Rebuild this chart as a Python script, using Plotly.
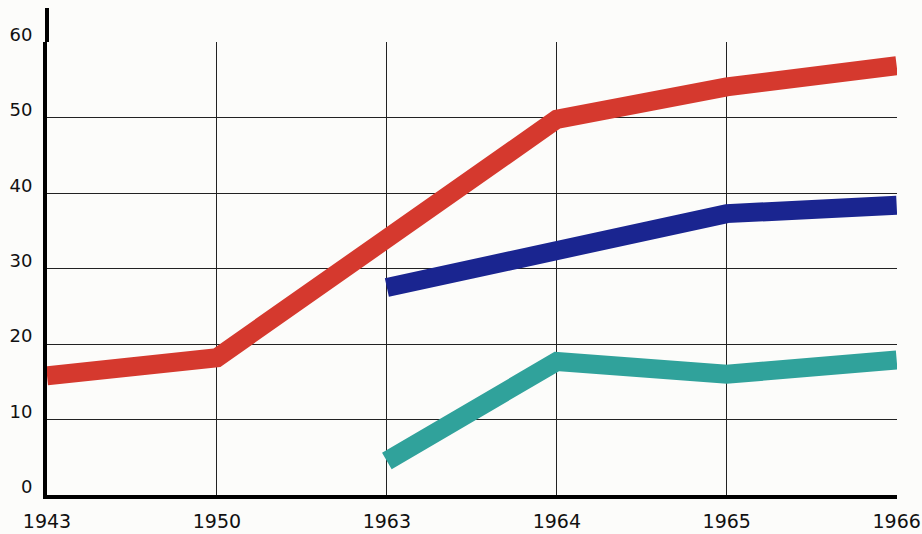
import plotly.graph_objects as go

years = ["1943", "1950", "1963", "1964", "1965", "1966"]
red_values = [15.8, 18.2, 34.0, 49.8, 54.1, 56.9]
blue_years = ["1963", "1964", "1965", "1966"]
blue_values = [27.5, 32.4, 37.3, 38.4]
teal_years = ["1963", "1964", "1965", "1966"]
teal_values = [4.5, 17.7, 16.0, 17.9]
y_ticks = [0, 10, 20, 30, 40, 50, 60]

fig = go.Figure()
fig.add_trace(go.Scatter(x=years, y=red_values, mode="lines",
                         line=dict(color="#d5392e", width=19), name="red"))
fig.add_trace(go.Scatter(x=blue_years, y=blue_values, mode="lines",
                         line=dict(color="#1a2590", width=19), name="blue"))
fig.add_trace(go.Scatter(x=teal_years, y=teal_values, mode="lines",
                         line=dict(color="#30a29b", width=19), name="teal"))

fig.update_layout(
    width=922, height=534,
    margin=dict(l=47, r=25, t=42, b=39, autoexpand=False),
    paper_bgcolor="#fcfcfa", plot_bgcolor="#fcfcfa",
    showlegend=False,
    font=dict(family="DejaVu Sans", size=18, color="#111"),
)
fig.update_xaxes(
    type="category", categoryorder="array", categoryarray=years,
    range=[0, 5.002], showgrid=True, gridcolor="#222", gridwidth=1,
    showline=True, linecolor="#000", linewidth=4, automargin=False,
    ticks="", tickfont=dict(size=19), ticklabelstandoff=6,
)
fig.update_yaxes(
    range=[0, 60.05], tickvals=y_ticks, showgrid=True, gridcolor="#222", gridwidth=1,
    showline=True, linecolor="#000", linewidth=4, zeroline=False, automargin=False,
    ticks="", tickfont=dict(size=18), ticklabelshift=-8, ticklabelstandoff=7,
)
# extension of the hand-drawn y axis above the top gridline
fig.add_shape(type="line", xref="paper", yref="paper", x0=0, x1=0, y0=1, y1=1.075,
              line=dict(color="#000", width=4))

fig.write_html("out.html", config={"displayModeBar": False},
               post_script="document.body.style.margin='0';")
